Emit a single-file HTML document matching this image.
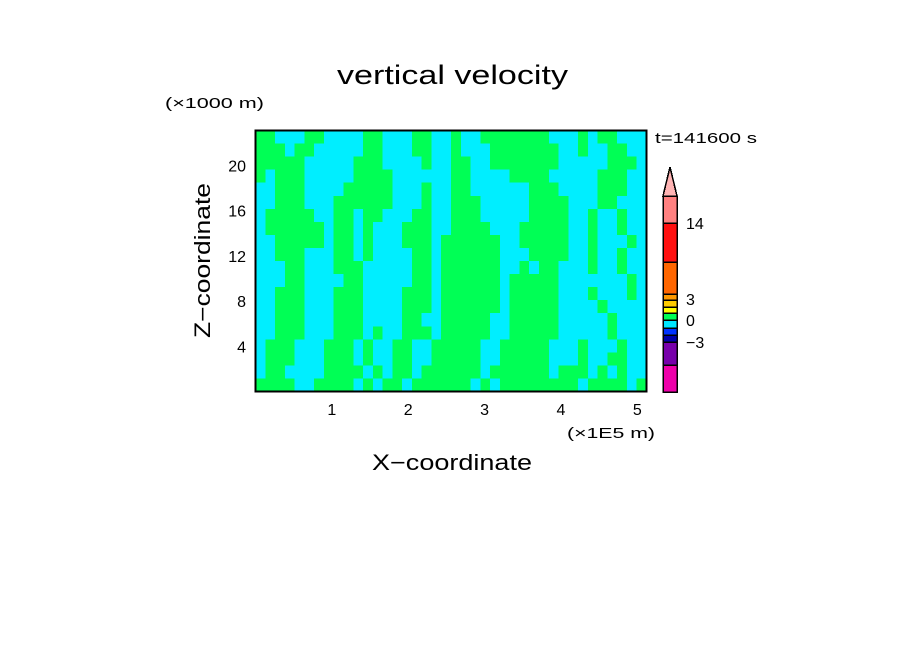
<!DOCTYPE html>
<html><head><meta charset="utf-8"><style>
html,body{margin:0;padding:0;background:#fff;}
svg{display:block;font-family:"Liberation Sans",sans-serif;}
</style></head><body>
<svg id="chart" width="904" height="654" viewBox="0 0 904 654">
<rect width="904" height="654" fill="#fff"/>
<text x="337" y="84" font-size="27" textLength="231" lengthAdjust="spacingAndGlyphs">vertical velocity</text>
<text x="165" y="108" font-size="15" textLength="99" lengthAdjust="spacingAndGlyphs">(×1000 m)</text>
<text x="655" y="143" font-size="15" textLength="102" lengthAdjust="spacingAndGlyphs">t=141600 s</text>
<text x="567" y="438" font-size="15" textLength="88" lengthAdjust="spacingAndGlyphs">(×1E5 m)</text>
<text x="372" y="470" font-size="22" textLength="160" lengthAdjust="spacingAndGlyphs">X−coordinate</text>
<text x="0" y="0" font-size="22" textLength="155" lengthAdjust="spacingAndGlyphs" transform="translate(210,338) rotate(-90)">Z−coordinate</text>
<g id="field" shape-rendering="crispEdges"></g>
<rect x="255.5" y="130.5" width="391" height="261" fill="none" stroke="#000" stroke-width="2"/>
<g id="xticks"></g>
<g id="yticks"></g>
<g id="cbar" shape-rendering="crispEdges"></g>
</svg>
<script>
const xTicks=[1,2,3,4,5];
const zTicks=[4,8,12,16,20];
const xMax=5.12, zMax=23.1;
const fieldRows=[
"ggcccggccccggcccggccgccgggggggcccgcggccc",
"gggcggcccccggcccggccgcccgggggggccgccggcc",
"gggggcccccgggccccgccggccgggggggcccccgggc",
"gcgggcccccggggccccccggccccggggcccccgggcc",
"ccgggccccgggggcccgccggccccccgggccccgggcc",
"ccgggcccggggggcccgccgggcccccggggcccggccc",
"cgggggccggcggcccggccgggcccccggggccgccgcc",
"cggggggcggcgcccgggccggggcccgggggccgccgcc",
"ccgggggcggcgcccgggcggggggccgggggccgcccgc",
"ccgggcccggcgccccggcggggggcccggggccgccgcc",
"cccggcccgggcccccggcggggggccgcggcccgccgcc",
"cccggccccggcccccggcggggggcgggggcccccccgc",
"ccgggcccgggccccgggcggggggcgggggcccgcccgc",
"ccgggcccgggccccgggcggggggcgggggccccgcccc",
"ccgggcccgggccccggccgggggccgggggcccccgccc",
"ccgggcccgggcgccgggcgggggccgggggcccccgccc",
"cgggcccgggcgccggccgggggccgggggcccgcccgcc",
"cgggcccgggcgccggccgggggccgggggcccgccggcc",
"cggccccggggcgcggcggggggcggggggcgggcgcgcc",
"ggggccggggcgcggcggggggcgcggggggggcggggcg"];
const cbarColors=["#ee00aa","#7700aa","#0000aa","#0033ff","#00e6ff","#00ff55","#ffff00","#ffcc00","#ff9900","#ff6600","#ff1010","#ff8080"];
const cbarBounds=[392,365,342,335,328,320,313,307,300,294,262,223,196];
const cbarLabels=["−3","0","3","14"];
const cbarLabelY=[348,326,305,229];

const NS="http://www.w3.org/2000/svg";
const L=255.5,R=646.5,T=130.5,B=391.5;
const sx=v=>L+v/xMax*(R-L);
const sz=v=>B-v/zMax*(B-T);
function mk(tag,attrs,parent){const e=document.createElementNS(NS,tag);for(const k in attrs)e.setAttribute(k,attrs[k]);parent.appendChild(e);return e;}
const field=document.getElementById('field');
const nr=fieldRows.length;
fieldRows.forEach((row,j)=>{
  const nc=row.length;
  for(let i=0;i<nc;i++){
    const r=mk('rect',{x:L+i*(R-L)/nc,y:T+j*(B-T)/nr,width:(R-L)/nc+0.6,height:(B-T)/nr+0.6,fill:row[i]==='g'?'#00ff55':'#00eeff'},field);
    
    
  }
});
const xg=document.getElementById('xticks');
xTicks.forEach(v=>{const t=mk('text',{x:sx(v),y:415,'font-size':16,'text-anchor':'middle'},xg);t.textContent=v;

});
const yg=document.getElementById('yticks');
zTicks.forEach(v=>{const t=mk('text',{x:246,y:sz(v)+6,'font-size':16,'text-anchor':'end'},yg);t.textContent=v;

});
const cb=document.getElementById('cbar');
cbarColors.forEach((c,i)=>{const r=mk('rect',{x:663,y:cbarBounds[i+1],width:14,height:cbarBounds[i]-cbarBounds[i+1],fill:c,stroke:'#000','stroke-width':1.5},cb);

});
const tri=mk('polygon',{points:'663,196 677,196 670,167',fill:'#ffb4b4',stroke:'#000','stroke-width':1.5},cb);


cbarLabels.forEach((s,i)=>{const t=mk('text',{x:686,y:cbarLabelY[i],'font-size':16},cb);t.textContent=s;

});
</script>
</body></html>
